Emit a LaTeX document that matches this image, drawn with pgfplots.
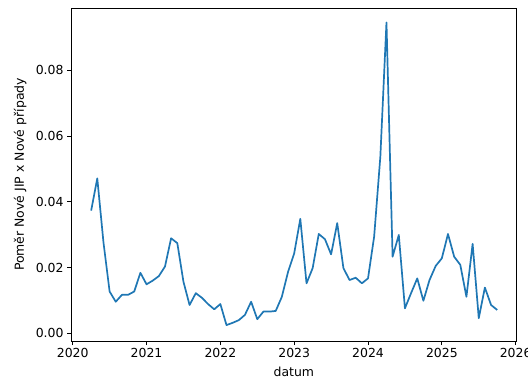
\documentclass[border=0pt]{standalone}
\usepackage{pgfplots}
\pgfplotsset{compat=1.18}
\usepackage{fontspec}
\setmainfont{DejaVu Sans}
\definecolor{mplblue}{HTML}{1F77B4}
\begin{document}
\begin{tikzpicture}[x=1bp,y=1bp]
\begin{axis}[
  at={(71bp,49bp)}, anchor=south west,
  scale only axis, width=445.7bp, height=333bp,
  xmin=2019.977, xmax=2026.014,
  ymin=-0.00234, ymax=0.0989,
  xtick={2020,2021,2022,2023,2024,2025,2026},
  ytick={0,0.02,0.04,0.06,0.08},
  xticklabel style={/pgf/number format/1000 sep={}},
  yticklabel style={/pgf/number format/fixed,/pgf/number format/fixed zerofill,/pgf/number format/precision=2},
  scaled y ticks=false,
  /pgf/number format/assume math mode=true,
  tick align=outside, tick pos=left,
  major tick length=4bp,
  every tick/.style={black, line width=0.9bp},
  axis line style={line width=0.9bp},
  font=\fontsize{12.5}{15}\selectfont,
  ticklabel style={font=\fontsize{12.5}{15}\selectfont},
  xlabel={datum}, ylabel={Poměr Nové JIP x Nové případy},
  xlabel style={at={(axis description cs:0.5,0)}, anchor=north, yshift=-23bp},
  ylabel style={at={(axis description cs:0,0.5)}, anchor=south, yshift=41bp},
  clip=false,
]
\addplot[mplblue, line width=1.7bp, line join=round] table {
x y
2020.250 0.0373
2020.333 0.0471
2020.417 0.0276
2020.500 0.0127
2020.583 0.0096
2020.667 0.0117
2020.750 0.0117
2020.833 0.0127
2020.917 0.0184
2021.000 0.0149
2021.083 0.0160
2021.167 0.0174
2021.250 0.0203
2021.333 0.0289
2021.417 0.0274
2021.500 0.0157
2021.583 0.0086
2021.667 0.0122
2021.750 0.0108
2021.833 0.0089
2021.917 0.0073
2022.000 0.0089
2022.083 0.0025
2022.167 0.0032
2022.250 0.0040
2022.333 0.0056
2022.417 0.0096
2022.500 0.0043
2022.583 0.0066
2022.667 0.0066
2022.750 0.0068
2022.833 0.0111
2022.917 0.0187
2023.000 0.0243
2023.083 0.0348
2023.167 0.0152
2023.250 0.0198
2023.333 0.0302
2023.417 0.0286
2023.500 0.0240
2023.583 0.0335
2023.667 0.0198
2023.750 0.0162
2023.833 0.0169
2023.917 0.0152
2024.000 0.0167
2024.083 0.0294
2024.167 0.0537
2024.250 0.0945
2024.333 0.0233
2024.417 0.0299
2024.500 0.0076
2024.583 0.0122
2024.667 0.0167
2024.750 0.0099
2024.833 0.0162
2024.917 0.0205
2025.000 0.0228
2025.083 0.0302
2025.167 0.0233
2025.250 0.0208
2025.333 0.0111
2025.417 0.0272
2025.500 0.0046
2025.583 0.0139
2025.667 0.0086
2025.750 0.0071
};
\end{axis}
\pgfresetboundingbox
\path[use as bounding box] (0,0) rectangle (528,390);
\end{tikzpicture}
\end{document}
